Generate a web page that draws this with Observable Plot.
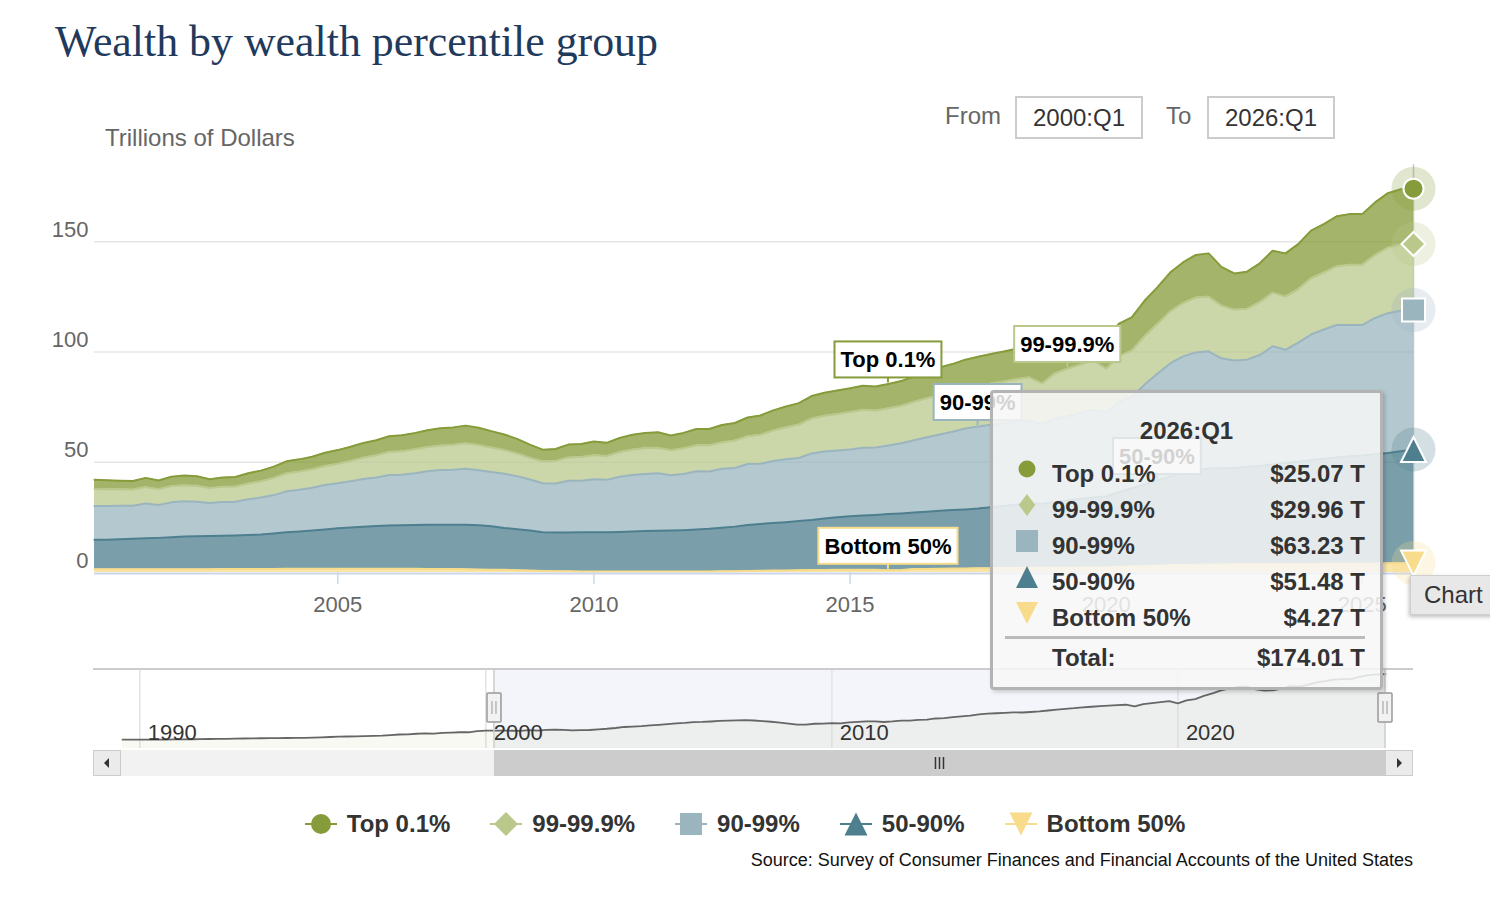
<!DOCTYPE html>
<html>
<head>
<meta charset="utf-8">
<script src="https://cdn.jsdelivr.net/npm/d3@7"></script>
<script src="https://cdn.jsdelivr.net/npm/@observablehq/plot@0.6"></script>
<style>
  html,body{margin:0;padding:0;background:#fff;}
  body{width:1490px;height:900px;position:relative;overflow:hidden;font-family:"Liberation Sans",Arial,sans-serif;}
  .abs{position:absolute;white-space:nowrap;}
  #title{left:55px;top:20px;font-family:"Liberation Serif",serif;font-size:44px;line-height:44px;color:#1f3a5c;}
  #ytitle{left:105px;top:126px;font-size:24px;line-height:24px;color:#666;}
  .lbl{font-size:24px;line-height:24px;color:#666;top:104px;}
  .box{top:96px;height:43px;width:128px;box-sizing:border-box;border:2px solid #cccccc;font-size:24px;line-height:39px;text-align:center;color:#333;}
  #main{left:0;top:150px;}
  #nav{left:0;top:660px;}
  #tooltip{left:990px;top:390px;width:393px;height:300px;box-sizing:border-box;border:3px solid #b3b3b3;border-radius:4px;background:rgba(247,247,247,0.85);box-shadow:2px 2px 4px rgba(0,0,0,0.18);}
  #tooltip .t{position:absolute;font-weight:bold;font-size:24px;line-height:24px;color:#333;white-space:nowrap;}
  #chartbtn{left:1410px;top:575px;width:110px;height:40px;box-sizing:border-box;background:#e8e8e8;border:1px solid #cfcfcf;box-shadow:-1px 2px 4px rgba(0,0,0,0.25);font-size:24px;line-height:38px;color:#333;padding-left:13px;}
  #legend{left:0;top:806px;width:1490px;height:36px;display:flex;justify-content:center;align-items:center;gap:40px;}
  #legend .item{display:flex;align-items:center;}
  #legend .item span{font-weight:bold;font-size:24px;line-height:24px;color:#333;margin-left:10px;}
  #source{right:77px;top:851px;font-size:18px;line-height:18px;color:#111;}
</style>
</head>
<body>
<div id="title" class="abs">Wealth by wealth percentile group</div>
<div id="ytitle" class="abs">Trillions of Dollars</div>
<div class="abs lbl" style="left:945px">From</div>
<div id="fromBox" class="abs box" style="left:1015px"></div>
<div class="abs lbl" style="left:1166px">To</div>
<div id="toBox" class="abs box" style="left:1207px"></div>
<div id="main" class="abs"></div>
<div id="nav" class="abs"></div>
<div id="chartbtn" class="abs">Chart</div>
<div id="tooltip" class="abs"></div>
<div id="legend" class="abs"></div>
<div id="source" class="abs">Source: Survey of Consumer Finances and Financial Accounts of the United States</div>
<script>
// ---------------- DATA ----------------
const seriesNames = ["Top 0.1%", "99-99.9%", "90-99%", "50-90%", "Bottom 50%"];
const seriesColors = ["#869c3a", "#bac88c", "#9bb5bf", "#4e7f8f", "#f8dc8c"];
const firstYear = 2000, firstQuarter = 2;   // first plotted quarter 2000:Q2 ... last 2026:Q1
const rangeFrom = "2000:Q1", rangeTo = "2026:Q1";

// Trillions of dollars, quarterly
const top01 = [4.1,4.0,3.9,3.9, 4.1,3.9,4.2,4.4, 4.3,4.0,4.2,4.3, 4.6,4.8,5.1,5.4, 5.5,5.7,6.0,6.2, 6.4,6.6,6.8,7.1, 7.2,7.3,7.6,7.8, 7.9,8.0,7.8,7.4, 7.1,6.6,6.0,5.3, 5.4,5.8,5.9,6.1, 6.0,6.4,6.7,6.9, 7.0,6.7,7.0,7.4, 7.4,7.8,8.0,8.5, 8.7,9.1,9.4,9.7, 10.2,10.4,10.6,10.7, 10.9,10.8,11.0,11.2, 11.6,12.0,12.4,12.7, 13.0,13.2,13.4,13.6, 13.8,14.0,12.8,13.6, 14.0,14.3,14.8,13.4, 14.6,15.1,16.0,16.6, 17.6,18.4,19.3,19.6, 17.5,16.4,16.8,17.6, 19.0,19.6,20.4,21.6, 22.0,22.6,22.9,22.9, 23.8,24.7,25.0,25.07];
const p99_999 = [7.8,7.6,7.4,7.3, 7.5,7.2,7.4,7.3, 7.2,6.8,6.9,6.9, 7.2,7.4,7.8,8.2, 8.3,8.4,8.6,8.8, 9.2,9.7,10.1,10.5, 10.7,10.9,11.0,11.1, 11.3,11.6,11.4,11.1, 10.7,10.3,9.8,9.9, 10.2,10.6,10.8,11.0, 10.8,11.2,11.6,11.7, 11.6,11.3,11.6,11.8, 11.9,12.1,12.4,12.6, 13.2,13.8,14.5,15.2, 15.8,16.2,16.6,17.0, 17.2,16.8,16.9,17.0, 17.4,17.7,18.0,18.0, 18.2,18.4,18.7,19.0, 19.3,19.6,18.5,20.6, 21.6,22.0,22.4,20.0, 20.8,21.0,22.0,22.6, 23.6,24.2,24.9,24.8, 24.0,23.1,23.1,24.0, 24.3,24.1,24.3,25.5, 25.8,26.7,27.4,27.4, 28.6,29.7,30.1,29.96];
const p90_99 = [15.3,15.3,15.2,15.0, 15.8,14.9,15.8,16.0, 15.7,15.0,15.3,15.3, 16.2,16.8,17.4,18.5, 18.9,19.4,20.2,20.4, 21.0,21.6,22.0,22.9, 22.9,23.5,24.3,24.9, 24.9,25.4,25.0,24.6, 24.6,24.1,23.2,22.2, 22.3,23.5,23.4,24.0, 23.7,25.0,25.6,25.9, 26.1,25.1,25.5,26.4, 26.0,26.7,26.6,27.7, 27.3,28.2,28.6,28.6, 30.2,30.4,30.2,30.3, 30.8,30.6,31.1,31.8, 32.8,33.7,34.6,35.5, 36.7,37.2,37.4,37.4, 37.6,37.5,36.0,37.7, 38.2,38.9,39.8,37.8, 41.0,41.4,45.2,48.4, 51.3,53.0,53.3,53.1, 49.8,48.7,48.7,50.3, 53.6,51.4,54.0,56.9, 58.6,60.0,59.5,59.1, 61.8,63.4,63.7,63.23];
const p50_90 = [13.3,13.4,13.6,13.8, 14.0,14.2,14.5,14.8, 14.9,15.0,15.1,15.2, 15.4,15.6,16.1,16.6, 16.9,17.3,17.8,18.4, 18.7,19.1,19.4,19.6, 19.7,19.8,20.0,20.0, 20.1,20.1,20.0,19.7, 19.0,18.6,18.1,17.6, 17.5,17.5,17.7,17.8, 17.8,18.0,18.2,18.4, 18.5,18.6,18.8,19.0, 19.3,19.7,20.2,20.8, 21.2,21.5,21.9,22.3, 22.7,23.4,23.9,24.2, 24.5,24.9,25.5,25.7, 25.6,26.0,26.3,26.5, 26.8,27.1,27.7,28.2, 28.8,29.3,29.1,29.8, 30.5,31.1,31.7,32.3, 33.9,35.5,37.1,38.6, 40.2,41.6,43.0,43.6, 43.7,43.7,44.1,44.6, 45.2,45.8,46.3,47.1, 47.6,48.2,48.6,49.0, 49.5,50.0,50.8,51.48];
const bottom50 = [1.5,1.5,1.5,1.5, 1.5,1.5,1.5,1.5, 1.5,1.5,1.6,1.6, 1.6,1.6,1.6,1.7, 1.7,1.7,1.7,1.7, 1.7,1.7,1.7,1.7, 1.7,1.7,1.6,1.6, 1.6,1.5,1.4,1.3, 1.2,1.0,0.9,0.7, 0.6,0.6,0.5,0.5, 0.5,0.4,0.4,0.4, 0.4,0.4,0.4,0.5, 0.5,0.6,0.6,0.7, 0.8,0.9,0.9,1.0, 1.1,1.1,1.2,1.3, 1.3,1.2,1.0,1.1, 1.6,1.6,1.7,1.8, 1.8,1.9,1.9,2.0, 2.0,2.1,2.1,2.2, 2.2,2.3,2.3,2.3, 2.5,2.7,2.9,3.1, 3.3,3.4,3.5,3.6, 3.6,3.7,3.7,3.7, 3.8,3.8,3.9,3.9, 4.0,4.0,4.1,4.1, 4.1,4.2,4.2,4.27];

// Navigator: total wealth before the plotted range, 1989:Q3 ... 2000:Q1
const navFirstYear = 1989, navFirstQuarter = 3;
const navPreTotals = [20.6,20.9, 21.0,20.8,20.7,20.6, 21.2,21.4,21.7,22.0, 22.3,22.5,22.7,23.1, 23.4,23.7,24.0,24.3, 24.5,24.6,24.8,24.9, 25.5,26.2,26.9,27.6, 28.1,28.6,29.0,29.8, 30.3,31.5,32.8,33.2, 34.5,35.2,34.6,36.4, 37.2,38.1,38.0,40.6, 41.8];

const yTicks = [0, 50, 100, 150];
const xTicks = [2005, 2010, 2015, 2020, 2025];
const navTicks = [1990, 2000, 2010, 2020];
// series label flags: which series and at which quarter
const flagDefs = [
  {series: "Top 0.1%", quarter: "2015:Q4"},
  {series: "Bottom 50%", quarter: "2015:Q4"},
  {series: "90-99%", quarter: "2017:Q3"},
  {series: "99-99.9%", quarter: "2019:Q2"},
  {series: "50-90%", quarter: "2021:Q1"}
];

// ---------------- PREP ----------------
const seriesValues = [top01, p99_999, p90_99, p50_90, bottom50];
const N = top01.length;
const tOf = (y0, q0, i) => y0 + (q0 - 1) / 4 + i / 4;
const labelOf = (y0, q0, i) => { const k = (q0 - 1) + i; return `${y0 + Math.floor(k / 4)}:Q${(k % 4) + 1}`; };
const times = d3.range(N).map(i => tOf(firstYear, firstQuarter, i));
const qLabels = d3.range(N).map(i => labelOf(firstYear, firstQuarter, i));
const tFirst = times[0], tLast = times[N - 1];
const stackOrder = seriesNames.slice().reverse();
const rows = [];
seriesNames.forEach((s, k) => seriesValues[k].forEach((v, i) => rows.push({t: times[i], series: s, value: v})));
// cumulative top of each layer (stack bottom is Bottom 50%)
const cumTop = seriesNames.map((s, k) => d3.range(N).map(i => d3.sum(seriesValues.slice(k), a => a[i])));
const totals = cumTop[0];
const colorOf = s => seriesColors[seriesNames.indexOf(s)];

// symbols (r = half width)
const R = size => Math.sqrt(size / Math.PI);
const symbols = [
  {draw(c, s){ const r = R(s); c.moveTo(r, 0); c.arc(0, 0, r, 0, 2 * Math.PI); }},
  {draw(c, s){ const r = R(s); c.moveTo(0, -r); c.lineTo(r, 0); c.lineTo(0, r); c.lineTo(-r, 0); c.closePath(); }},
  {draw(c, s){ const r = R(s); c.rect(-r, -r, 2 * r, 2 * r); }},
  {draw(c, s){ const r = R(s); c.moveTo(0, -r); c.lineTo(r, r); c.lineTo(-r, r); c.closePath(); }},
  {draw(c, s){ const r = R(s); c.moveTo(-r, -r); c.lineTo(r, -r); c.lineTo(0, r); c.closePath(); }}
];
const symbolR = [10, 12, 11.5, 12.5, 12.5];
const symPath = (k, r) => { const p = d3.path(); symbols[k].draw(p, r * r * Math.PI); return p.toString(); };

const mctx = document.createElement("canvas").getContext("2d");
const textW = (str, font) => { mctx.font = font; return mctx.measureText(str).width; };

// ---------------- HEADER ----------------
(function(){
  const el = document.getElementById("title");
  const w = textW(el.textContent, "44px 'Liberation Serif'");
  const fs = 44 * 603 / w;
  el.style.fontSize = fs + "px"; el.style.lineHeight = fs + "px";
  el.style.top = (57 - 0.8375 * fs) + "px";
})();
document.getElementById("fromBox").textContent = rangeFrom;
document.getElementById("toBox").textContent = rangeTo;

// ---------------- MAIN CHART ----------------
function flagsMark(defs) {
  return (index, scales) => {
    const g = d3.create("svg:g");
    for (const f of defs) {
      const k = seriesNames.indexOf(f.series), i = qLabels.indexOf(f.quarter);
      const px = scales.x(times[i]), py = scales.y(cumTop[k][i]);
      const font = "bold 22px 'Liberation Sans'";
      const w = textW(f.series, font) + 12, h = 36, gap = 6;
      const top = py - gap - h, col = seriesColors[k];
      g.append("line").attr("x1", px).attr("x2", px).attr("y1", py - gap).attr("y2", py - 1)
        .attr("stroke", col).attr("stroke-width", 2);
      g.append("rect").attr("x", px - w / 2).attr("y", top).attr("width", w).attr("height", h)
        .attr("fill", "#fff").attr("stroke", col).attr("stroke-width", 2);
      g.append("text").attr("x", px).attr("y", top + h / 2).attr("dy", "0.36em")
        .attr("text-anchor", "middle").attr("font-weight", "bold").attr("font-size", 22)
        .attr("fill", "#000").text(f.series);
    }
    return g.node();
  };
}

const lastIdx = N - 1;
const endPts = seriesNames.map((s, k) => ({t: tLast, v: cumTop[k][lastIdx], series: s}));

const main = Plot.plot({
  width: 1490, height: 480,
  marginLeft: 94, marginRight: 77, marginTop: 14, marginBottom: 58,
  x: {domain: [tFirst, tLast]},
  y: {domain: [0, 185]},
  color: {domain: seriesNames, range: seriesColors},
  style: {fontFamily: "'Liberation Sans', Arial, sans-serif", fontSize: "22px", background: "transparent", overflow: "visible"},
  marks: [
    Plot.gridY(yTicks.filter(d => d > 0), {stroke: "#e6e6e6", strokeOpacity: 1, strokeWidth: 1.5}),
    Plot.ruleX([tLast], {stroke: "#c8c8c8", strokeWidth: 1.5}),
    Plot.areaY(rows, Plot.stackY({x: "t", y: "value", z: "series", fill: "series", order: stackOrder, fillOpacity: 0.75})),
    Plot.lineY(rows, Plot.stackY2({x: "t", y: "value", z: "series", stroke: "series", order: stackOrder, strokeWidth: 2})),
    Plot.ruleY([0], {stroke: "#ccd6eb", strokeWidth: 2, dy: 1}),
    Plot.axisY({ticks: yTicks, tickSize: 0, tickPadding: 6, dy: -12, fill: "#666", fontSize: 22, label: null}),
    Plot.axisX({ticks: xTicks, tickFormat: d => String(d), tickSize: 12, tickPadding: 12, stroke: "#ccd6eb", strokeWidth: 1.5, fill: "#666", fontSize: 22, label: null}),
    flagsMark(flagDefs),
    Plot.dot(endPts, {x: "t", y: "v", fill: "series", fillOpacity: 0.25, r: 22}),
    ...seriesNames.map((s, k) => Plot.dot([endPts[k]], {x: "t", y: "v", fill: colorOf(s), symbol: symbols[k], r: symbolR[k], stroke: "#fff", strokeWidth: 2}))
  ]
});
document.getElementById("main").appendChild(main);

// ---------------- NAVIGATOR ----------------
const navRows = [
  ...navPreTotals.map((v, i) => ({t: tOf(navFirstYear, navFirstQuarter, i), total: v})),
  ...totals.map((v, i) => ({t: times[i], total: v}))
];
const navT0 = navRows[0].t;

function navDecor(index, scales, values, dim) {
  const g = d3.create("svg:g");
  const L = dim.marginLeft, Rt = dim.width - dim.marginRight, T = dim.marginTop, B = dim.height - dim.marginBottom;
  const x0 = scales.x(tFirst), x1 = scales.x(tLast);
  g.append("line").attr("x1", L).attr("x2", Rt).attr("y1", T).attr("y2", T).attr("stroke", "#cccccc").attr("stroke-width", 2);
  for (const xx of [x0, x1]) g.append("line").attr("x1", xx).attr("x2", xx).attr("y1", T).attr("y2", B).attr("stroke", "#cccccc").attr("stroke-width", 1.5);
  // scrollbar
  const sy = B + 2, sh = 26;
  g.append("rect").attr("x", L).attr("y", sy).attr("width", Rt - L).attr("height", sh).attr("fill", "#f2f2f2");
  g.append("rect").attr("x", x0).attr("y", sy).attr("width", x1 - x0).attr("height", sh).attr("fill", "#cccccc");
  const cx = (x0 + x1) / 2;
  for (const d of [-4, 0, 4]) g.append("line").attr("x1", cx + d).attr("x2", cx + d).attr("y1", sy + 7).attr("y2", sy + 19).attr("stroke", "#333").attr("stroke-width", 1.5);
  for (const [bx, dir] of [[L, -1], [Rt - 28, 1]]) {
    g.append("rect").attr("x", bx + 0.5).attr("y", sy + 0.5).attr("width", 27).attr("height", sh - 1).attr("fill", "#ebebeb").attr("stroke", "#cccccc");
    const ax = bx + 14, ay = sy + sh / 2;
    g.append("path").attr("d", dir < 0 ? `M${ax + 2},${ay - 5}L${ax - 3},${ay}L${ax + 2},${ay + 5}Z` : `M${ax - 2},${ay - 5}L${ax + 3},${ay}L${ax - 2},${ay + 5}Z`).attr("fill", "#333");
  }
  // handles
  for (const xx of [x0, x1]) {
    const hy = T + 24;
    g.append("rect").attr("x", xx - 7).attr("y", hy).attr("width", 14).attr("height", 29).attr("rx", 1)
      .attr("fill", "#f2f2f2").attr("stroke", "#999").attr("stroke-width", 1.5);
    for (const d of [-2, 2]) g.append("line").attr("x1", xx + d).attr("x2", xx + d).attr("y1", hy + 8).attr("y2", hy + 21).attr("stroke", "#999").attr("stroke-width", 1);
  }
  return g.node();
}

const nav = Plot.plot({
  width: 1490, height: 120,
  marginLeft: 93, marginRight: 77, marginTop: 9, marginBottom: 32,
  x: {domain: [navT0, tLast], range: [122, 1385], axis: null},
  y: {domain: [0, 185], axis: null},
  style: {fontFamily: "'Liberation Sans', Arial, sans-serif", fontSize: "22px", background: "transparent", overflow: "visible"},
  marks: [
    Plot.rect([{a: tFirst, b: tLast}], {x1: "a", x2: "b", fill: "#6685c2", fillOpacity: 0.08}),
    Plot.gridX(navTicks, {stroke: "#e3e3e3", strokeOpacity: 1, strokeWidth: 1.5}),
    Plot.areaY(navRows, {x: "t", y: "total", fill: "#869c3a", fillOpacity: 0.06}),
    Plot.lineY(navRows, {x: "t", y: "total", stroke: "#666", strokeWidth: 1.8}),
    Plot.text(navTicks, {x: d => d, text: d => String(d), frameAnchor: "bottom", dy: -9, dx: 8, textAnchor: "start", fill: "#333", fontSize: 22}),
    navDecor
  ]
});
document.getElementById("nav").appendChild(nav);

// ---------------- TOOLTIP ----------------
(function(){
  const tt = d3.select("#tooltip");
  tt.append("div").attr("class", "t").style("left", "0px").style("width", "387px").style("text-align", "center")
    .style("top", (38 - 12) + "px").text(qLabels[lastIdx]);
  const svg = tt.append("svg").style("position", "absolute").style("left", "0px").style("top", "0px")
    .attr("width", 387).attr("height", 294);
  seriesNames.forEach((s, k) => {
    const cy = 81 + 36 * k;
    const r = [8.5, 11, 11, 11, 11][k];
    let d;
    if (k === 1) { d = `M0,${-r}L${r * 0.75},0L0,${r}L${-r * 0.75},0Z`; }
    else d = symPath(k, r);
    svg.append("path").attr("d", d).attr("transform", `translate(34,${cy - 5})`).attr("fill", seriesColors[k]);
    tt.append("div").attr("class", "t").style("left", "59px").style("top", (cy - 12) + "px").text(s);
    tt.append("div").attr("class", "t").style("right", "15px").style("top", (cy - 12) + "px")
      .text(`$${seriesValues[k][lastIdx].toFixed(2)} T`);
  });
  tt.append("div").style("position", "absolute").style("left", "12px").style("top", "243px")
    .style("width", "360px").style("height", "3px").style("background", "#bbbbbb");
  tt.append("div").attr("class", "t").style("left", "59px").style("top", "253px").text("Total:");
  tt.append("div").attr("class", "t").style("right", "15px").style("top", "253px")
    .text(`$${d3.sum(seriesValues, a => a[lastIdx]).toFixed(2)} T`);
})();

// ---------------- LEGEND ----------------
(function(){
  const lg = d3.select("#legend");
  seriesNames.forEach((s, k) => {
    const it = lg.append("div").attr("class", "item");
    const sv = it.append("svg").attr("width", 32).attr("height", 28);
    sv.append("line").attr("x1", 0).attr("x2", 32).attr("y1", 14).attr("y2", 14).attr("stroke", seriesColors[k]).attr("stroke-width", 2);
    sv.append("path").attr("d", symPath(k, [10, 12, 11, 11.5, 11.5][k])).attr("transform", "translate(16,14)").attr("fill", seriesColors[k]);
    it.append("span").text(s);
  });
})();
</script>
</body>
</html>
